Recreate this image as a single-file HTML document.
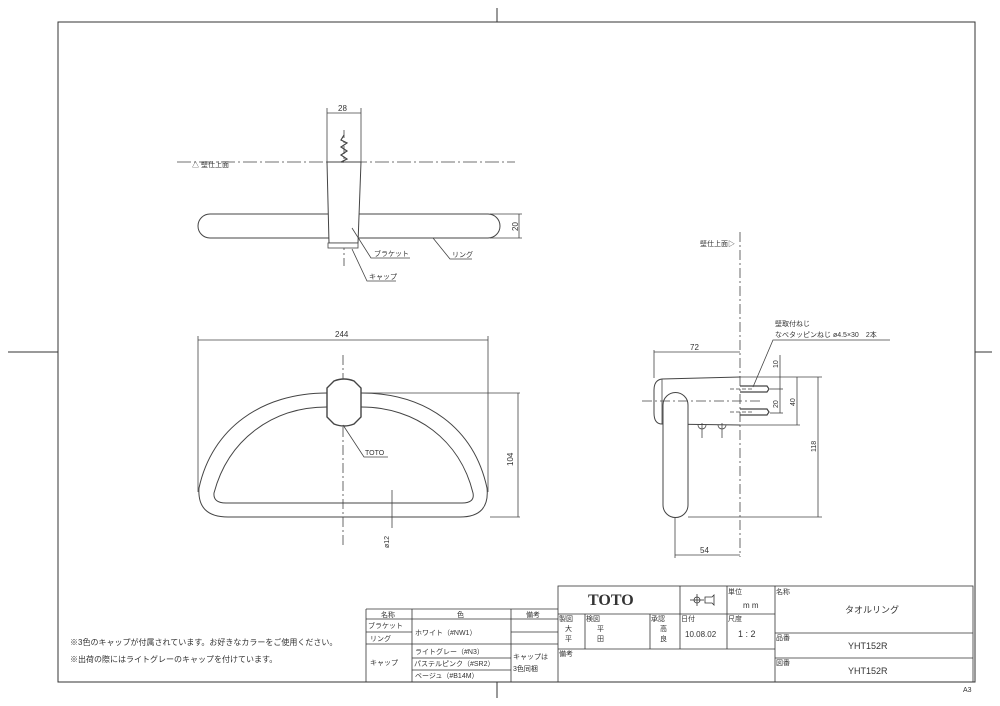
<!DOCTYPE html>
<html><head><meta charset="utf-8"><style>
body{margin:0;background:#fff}
svg{display:block}
text{font-family:"Liberation Sans","Noto Sans CJK JP",sans-serif;fill:#333}
</style></head><body>
<svg width="1000" height="706" viewBox="0 0 1000 706" xmlns="http://www.w3.org/2000/svg">
<g stroke="#333" fill="none" stroke-width="1">
<rect x="58" y="22" width="917" height="660"/>
<line x1="497" y1="8" x2="497" y2="22"/><line x1="497" y1="682" x2="497" y2="698"/>
<line x1="8" y1="352" x2="58" y2="352"/><line x1="975" y1="352" x2="992" y2="352"/>
</g>
<!-- TOP VIEW -->
<g stroke="#444" fill="none" stroke-width="0.8">
<line x1="177" y1="162" x2="515" y2="162" stroke-dasharray="14,3,2,3"/>
<line x1="344" y1="130" x2="344" y2="268" stroke-dasharray="8,3,2,3"/>
<line x1="327" y1="108" x2="327" y2="162"/><line x1="361" y1="108" x2="361" y2="162"/>
<line x1="327" y1="113" x2="361" y2="113"/>
<path d="M210,214 L488,214 A12,12 0 0 1 488,238 L210,238 A12,12 0 0 1 210,214 Z" fill="#fff" stroke-width="1"/>
<path d="M327,162 L361,162 L358,243 L329,243 Z" fill="#fff" stroke-width="1"/>
<rect x="328" y="243" width="30" height="5" fill="#fff"/>
<path d="M344,135 L341,140 L347,143 L341,147 L347,151 L341,155 L347,159 L341,162 L344,162" stroke-width="1.2"/>
<line x1="519" y1="214" x2="519" y2="238"/><line x1="490" y1="214" x2="522" y2="214"/><line x1="490" y1="238" x2="522" y2="238"/>
<polyline points="352,228 371,258 410,258"/>
<polyline points="433,238 450,259 472,259"/>
<polyline points="352,249 367,281 396,281"/>
</g>
<g font-size="7">
<text x="338" y="111" font-size="8">28</text>
<text x="192" y="167">△ 壁仕上面</text>
<text x="374" y="256">ブラケット</text>
<text x="452" y="257">リング</text>
<text x="369" y="279">キャップ</text>
<text x="520" y="231" font-size="8" transform="rotate(-90 520 231)" dx="0" dy="-2">20</text>
</g>
<!-- FRONT VIEW -->
<g stroke="#444" fill="none" stroke-width="0.8">
<line x1="198" y1="340" x2="488" y2="340"/>
<line x1="198" y1="336" x2="198" y2="492"/><line x1="488" y1="336" x2="488" y2="492"/>
<line x1="343" y1="355" x2="343" y2="545" stroke-dasharray="10,3,2,3"/>
<path d="M327,393 C262,393 212,428 199,488 Q197,517 228,517 L460,517 Q490,517 487,488 C474,428 426,393 361,393" stroke-width="1"/>
<path d="M327,407 C272,407 228,440 214,493 Q213,503 226,503 L462,503 Q475,503 473,493 C460,440 416,407 361,407" stroke-width="1"/>
<path d="M327,388 L334,381 Q344,377 354,381 L361,388 L361,417 L354,424 Q344,428 334,424 L327,417 Z" fill="#fff" stroke-width="1.4"/>
<line x1="361" y1="393" x2="520" y2="393"/><line x1="490" y1="517" x2="520" y2="517"/>
<line x1="518" y1="393" x2="518" y2="517"/>
<line x1="392" y1="490" x2="392" y2="528"/>
<polyline points="343,425 364,457 388,457"/>
</g>
<g font-size="8">
<text x="335" y="337">244</text>
<text x="365" y="455" font-size="7">TOTO</text>
<text x="513" y="466" transform="rotate(-90 513 466)">104</text>
<text x="389" y="548" transform="rotate(-90 389 548)" font-size="7">ø12</text>
</g>
<!-- SIDE VIEW -->
<g stroke="#444" fill="none" stroke-width="0.8">
<line x1="740" y1="232" x2="740" y2="557" stroke-dasharray="10,3,2,3"/>
<path d="M740,377 L662,379 Q654,380 654,390 L654,413 Q654,424 662,424 L740,425" stroke-width="1"/>
<line x1="662" y1="379" x2="662" y2="424"/>
<path d="M663,405 A12.5,12.5 0 0 1 688,405 L688,505 A12.5,12.5 0 0 1 663,505 Z" fill="#fff" stroke-width="1"/>
<path d="M698,425 A4,4 0 0 0 706,425 M718,425 A4,4 0 0 0 726,425"/>
<line x1="702" y1="423" x2="702" y2="438"/><line x1="722" y1="423" x2="722" y2="438"/>
<line x1="642" y1="401" x2="760" y2="401" stroke-dasharray="10,3,2,3"/>
<path d="M740,386 L767,386 L769,389 L767,392 L740,392 M740,409 L767,409 L769,412 L767,415 L740,415" stroke-width="1.2"/>
<line x1="730" y1="389" x2="752" y2="389" stroke-dasharray="4,2"/><line x1="730" y1="412" x2="752" y2="412" stroke-dasharray="4,2"/>
<line x1="654" y1="352" x2="740" y2="352"/><line x1="654" y1="350" x2="654" y2="378"/>
<line x1="675" y1="555" x2="740" y2="555"/><line x1="675" y1="518" x2="675" y2="558"/>
<line x1="780" y1="355" x2="780" y2="413"/>
<line x1="740" y1="377" x2="822" y2="377"/><line x1="740" y1="425" x2="800" y2="425"/>
<line x1="688" y1="517" x2="822" y2="517"/>
<line x1="797" y1="377" x2="797" y2="425"/><line x1="818" y1="377" x2="818" y2="517"/>
<line x1="770" y1="389" x2="783" y2="389"/><line x1="770" y1="413" x2="783" y2="413"/>
<polyline points="753,387 773,340 890,340"/>
</g>
<g font-size="8">
<text x="700" y="246" font-size="7">壁仕上面▷</text>
<text x="775" y="326" font-size="7">壁取付ねじ</text>
<text x="775" y="337" font-size="7">なべタッピンねじ ø4.5×30　2本</text>
<text x="690" y="350">72</text>
<text x="700" y="553">54</text>
<text x="778" y="368" transform="rotate(-90 778 368)" font-size="7">10</text>
<text x="778" y="408" transform="rotate(-90 778 408)" font-size="7">20</text>
<text x="795" y="406" transform="rotate(-90 795 406)" font-size="7">40</text>
<text x="816" y="452" transform="rotate(-90 816 452)" font-size="7">118</text>
</g>
<!-- NOTES -->
<g font-size="8">
<text x="70" y="645">※3色のキャップが付属されています。お好きなカラーをご使用ください。</text>
<text x="70" y="662">※出荷の際にはライトグレーのキャップを付けています。</text>
</g>
<!-- TITLE BLOCK -->
<g stroke="#333" fill="none" stroke-width="0.8">
<rect x="558" y="586" width="415" height="96"/>
<line x1="366" y1="609" x2="558" y2="609"/><line x1="366" y1="609" x2="366" y2="682"/>
<line x1="366" y1="619" x2="558" y2="619"/>
<line x1="366" y1="632" x2="412" y2="632"/>
<line x1="511" y1="632" x2="558" y2="632"/>
<line x1="366" y1="644" x2="558" y2="644"/>
<line x1="412" y1="658" x2="511" y2="658"/><line x1="412" y1="670" x2="511" y2="670"/>
<line x1="412" y1="609" x2="412" y2="682"/><line x1="511" y1="609" x2="511" y2="682"/>
<line x1="558" y1="614" x2="775" y2="614"/>
<line x1="558" y1="649" x2="775" y2="649"/>
<line x1="680" y1="586" x2="680" y2="649"/><line x1="727" y1="586" x2="727" y2="649"/>
<line x1="775" y1="586" x2="775" y2="682"/>
<line x1="585" y1="614" x2="585" y2="649"/><line x1="650" y1="614" x2="650" y2="649"/>
<line x1="775" y1="633" x2="973" y2="633"/><line x1="775" y1="658" x2="973" y2="658"/>
<circle cx="697" cy="600" r="3"/><line x1="690" y1="600" x2="704" y2="600"/><line x1="697" y1="594" x2="697" y2="606"/>
<path d="M705,597 L712,597 L714,595 L714,605 L712,603 L705,603 Z"/>
</g>
<g font-size="7">
<text x="588" y="605" font-size="16" font-weight="bold" style="font-family:'Liberation Serif',serif" fill="#111">TOTO</text>
<text x="728" y="594">単位</text><text x="743" y="608" font-size="8">m m</text>
<text x="776" y="594">名称</text><text x="845" y="613" font-size="9" fill="#666">タオルリング</text>
<text x="559" y="621">製図</text><text x="586" y="621">検図</text><text x="651" y="621">承認</text><text x="681" y="621">日付</text><text x="728" y="621">尺度</text>
<text x="565" y="631" fill="#777">大</text><text x="565" y="641" fill="#777">平</text>
<text x="597" y="631" fill="#777">平</text><text x="597" y="641" fill="#777">田</text>
<text x="660" y="631" fill="#777">高</text><text x="660" y="641" fill="#777">良</text>
<text x="685" y="637" fill="#777" font-size="8">10.08.02</text>
<text x="738" y="637" font-size="9">1 : 2</text>
<text x="559" y="656">備考</text>
<text x="776" y="640">品番</text><text x="848" y="649" font-size="9" fill="#666">YHT152R</text>
<text x="776" y="665">図番</text><text x="848" y="674" font-size="9" fill="#666">YHT152R</text>
<text x="381" y="617">名称</text><text x="457" y="617">色</text><text x="526" y="617">備考</text>
<text x="368" y="628">ブラケット</text><text x="370" y="641">リング</text>
<text x="415" y="635">ホワイト（#NW1）</text>
<text x="370" y="665">キャップ</text>
<text x="415" y="654">ライトグレー（#N3）</text>
<text x="414" y="666">パステルピンク（#SR2）</text>
<text x="415" y="678">ベージュ（#B14M）</text>
<text x="513" y="659">キャップは</text><text x="513" y="671">3色同梱</text>
<text x="963" y="692">A3</text>
</g>
</svg>
</body></html>
